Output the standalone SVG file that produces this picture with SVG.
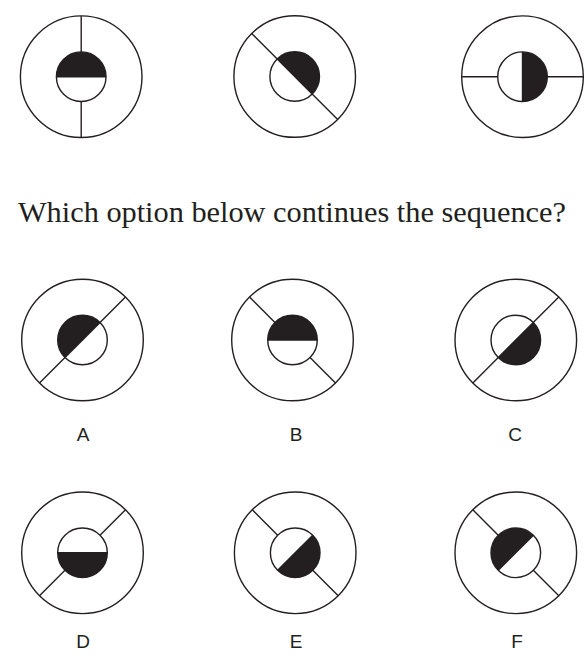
<svg xmlns="http://www.w3.org/2000/svg" width="587" height="660" viewBox="0 0 587 660">
<style>
.o{fill:#fff;stroke:#231f20;stroke-width:1.4}
.i{fill:none;stroke:#231f20;stroke-width:1.4}
.l{stroke:#231f20;stroke-width:1.4;fill:none}
.b{fill:#231f20;stroke:none}
.q{font-family:"Liberation Serif","DejaVu Serif",serif;font-size:30px;fill:#231f20}
.lab{font-family:"Liberation Sans",Arial,sans-serif;font-size:19px;fill:#231f20;text-anchor:middle}
</style>
<rect width="587" height="660" fill="#fff"/>
<g id="fig1" transform="translate(81.2,76.7)">
<circle class="o" r="60.8"/>
<path class="b" d="M-24.8 0A24.8 24.8 0 0 1 24.8 0Z"/>
<circle class="i" r="24.8"/>
<g class="l"><line x1="0" y1="-60.8" x2="0" y2="-24.8"/><line x1="0" y1="24.8" x2="0" y2="60.8"/><line x1="-24.8" y1="0" x2="24.8" y2="0"/></g>
</g>
<g id="fig2" transform="translate(294.7,76.5)">
<circle class="o" r="60.8"/>
<path class="b" d="M-17.54 -17.54A24.8 24.8 0 0 1 17.54 17.54Z"/>
<circle class="i" r="24.8"/>
<line class="l" x1="-42.99" y1="-42.99" x2="42.99" y2="42.99"/>
</g>
<g id="fig3" transform="translate(522.5,76.7)">
<circle class="o" r="60.8"/>
<path class="b" d="M0 -24.8A24.8 24.8 0 0 1 0 24.8Z"/>
<circle class="i" r="24.8"/>
<g class="l"><line x1="-60.8" y1="0" x2="-24.8" y2="0"/><line x1="24.8" y1="0" x2="60.8" y2="0"/><line x1="0" y1="-24.8" x2="0" y2="24.8"/></g>
</g>
<text class="q" x="18" y="222" textLength="548" lengthAdjust="spacingAndGlyphs">Which option below continues the sequence?</text>
<g id="optA" transform="translate(82.5,340)">
<circle class="o" r="60.8"/>
<path class="b" d="M-17.54 17.54A24.8 24.8 0 0 1 17.54 -17.54Z"/>
<circle class="i" r="24.8"/>
<line class="l" x1="42.99" y1="-42.99" x2="-42.99" y2="42.99"/>
</g>
<text class="lab" x="83" y="441">A</text>
<g id="optB" transform="translate(292.5,340)">
<circle class="o" r="60.8"/>
<path class="b" d="M-24.8 0A24.8 24.8 0 0 1 24.8 0Z"/>
<circle class="i" r="24.8"/>
<g class="l"><line x1="-42.99" y1="-42.99" x2="-17.54" y2="-17.54"/><line x1="17.54" y1="17.54" x2="42.99" y2="42.99"/><line x1="-24.8" y1="0" x2="24.8" y2="0"/></g>
</g>
<text class="lab" x="296" y="441">B</text>
<g id="optC" transform="translate(515.8,340)">
<circle class="o" r="60.8"/>
<path class="b" d="M17.54 -17.54A24.8 24.8 0 0 1 -17.54 17.54Z"/>
<circle class="i" r="24.8"/>
<line class="l" x1="42.99" y1="-42.99" x2="-42.99" y2="42.99"/>
</g>
<text class="lab" x="515" y="441">C</text>
<g id="optD" transform="translate(82.5,552.8)">
<circle class="o" r="60.8"/>
<path class="b" d="M24.8 0A24.8 24.8 0 0 1 -24.8 0Z"/>
<circle class="i" r="24.8"/>
<g class="l"><line x1="42.99" y1="-42.99" x2="17.54" y2="-17.54"/><line x1="-17.54" y1="17.54" x2="-42.99" y2="42.99"/><line x1="-24.8" y1="0" x2="24.8" y2="0"/></g>
</g>
<text class="lab" x="83" y="648">D</text>
<g id="optE" transform="translate(295.2,552.8)">
<circle class="o" r="60.8"/>
<path class="b" d="M17.54 -17.54A24.8 24.8 0 0 1 -17.54 17.54Z"/>
<circle class="i" r="24.8"/>
<g class="l"><line x1="-42.99" y1="-42.99" x2="-17.54" y2="-17.54"/><line x1="17.54" y1="17.54" x2="42.99" y2="42.99"/><line x1="17.54" y1="-17.54" x2="-17.54" y2="17.54"/></g>
</g>
<text class="lab" x="296" y="648">E</text>
<g id="optF" transform="translate(515.8,552.8)">
<circle class="o" r="60.8"/>
<path class="b" d="M-17.54 17.54A24.8 24.8 0 0 1 17.54 -17.54Z"/>
<circle class="i" r="24.8"/>
<g class="l"><line x1="-42.99" y1="-42.99" x2="-17.54" y2="-17.54"/><line x1="17.54" y1="17.54" x2="42.99" y2="42.99"/><line x1="17.54" y1="-17.54" x2="-17.54" y2="17.54"/></g>
</g>
<text class="lab" x="517" y="648">F</text>
</svg>
